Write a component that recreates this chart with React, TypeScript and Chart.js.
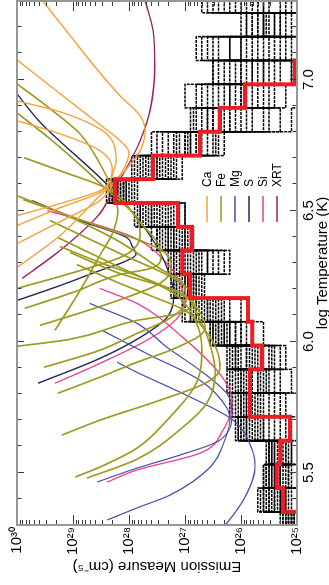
import React, { useEffect, useRef } from 'react';
import { Chart, registerables } from 'chart.js';

Chart.register(...registerables);

// ---------- axes ----------
const T_MIN = 5.3;
const T_MAX = 7.3;
const T_MAJOR = [5.5, 6.0, 6.5, 7.0];
const T_MINOR = [5.4, 5.6, 5.7, 5.8, 5.9, 6.1, 6.2, 6.3, 6.4, 6.6, 6.7, 6.8, 6.9, 7.1, 7.2];
const EM_DECADES = [25, 26, 27, 28, 29, 30];
const EM_MINOR_MULT = [2, 3, 4, 5, 6, 7, 8, 9];

// ---------- colours / legend ----------
const LEGEND_LABELS = ['Ca', 'Fe', 'Mg', 'S', 'Si', 'XRT'];
const LEGEND_COLORS = ['#f7a13a', '#9d9b22', '#4d4da6', '#24245e', '#ef3b8d', '#9b1f5e'];

// ---------- DEM histograms (log T bin edges, log EM per bin) ----------
const BIN_EDGES = [5.259, 5.35, 5.441, 5.531, 5.622, 5.713, 5.804, 5.894, 5.985, 6.076, 6.166, 6.257,
  6.348, 6.438, 6.529, 6.62, 6.71, 6.801, 6.892, 6.982, 7.073, 7.164, 7.255, 7.346];
const RED_EDGES = [5.35, 5.441, 5.531, 5.622, 5.713, 5.804, 5.894, 5.985, 6.076, 6.166, 6.257,
  6.348, 6.438, 6.529, 6.62, 6.71, 6.801, 6.892, 6.982, 7.073];
const RED_LOG_EM = [25.25, 25.36, 25.3, 25.125, 25.84, 25.84, 25.625, 25.8, 25.875, 26.91, 27.05,
  26.875, 27.125, 28.25, 27.57, 26.73, 26.375, 25.93, 25.04];
const FLOOR_LOG_EM = 24.8;

const MC_01 = [25.1, 25.3, 25.45, 25.2, 25.9, 25.6, 26.0, 25.5, 26.3, 26.6, 27.0, 26.9, 27.3, 27.5, 28.1, 27.7, 27.0, 26.2, 25.8, 25.4, 26.2, 25.3, 25.8];
const MC_02 = [25.25, 25.6, 25.1, 25.5, 25.4, 26.1, 25.3, 26.1, 25.8, 27.0, 26.8, 27.2, 27.0, 27.8, 28.3, 27.4, 27.4, 25.5, 26.5, 26.0, 25.2, 25.9, 26.4];
const MC_03 = [25.0, 25.1, 25.3, 25.0, 26.05, 25.2, 25.7, 25.9, 26.5, 26.2, 27.2, 26.4, 27.5, 27.1, 27.9, 27.9, 26.5, 26.8, 25.2, 26.5, 26.7, 25.0, 25.1];
const MC_04 = [25.15, 25.5, 25.55, 25.4, 25.2, 25.9, 26.2, 25.2, 26.0, 26.9, 26.7, 27.3, 26.9, 27.7, 28.2, 27.2, 27.2, 25.8, 27.0, 25.1, 25.8, 26.0, 25.0];
const MC_05 = [25.05, 25.7, 25.2, 25.1, 25.6, 25.4, 25.1, 26.2, 25.6, 26.4, 27.1, 26.7, 27.6, 27.3, 28.0, 27.6, 26.8, 26.9, 26.2, 25.7, 25.5, 25.6, 26.7];
const MC_06 = [25.2, 25.0, 25.4, 25.3, 26.0, 26.2, 25.9, 25.8, 26.2, 26.0, 26.9, 27.0, 27.2, 27.0, 28.4, 27.95, 27.6, 25.1, 25.0, 26.4, 26.0, 25.4, 25.3];
const MC_07 = [25.0, 25.4, 25.0, 25.55, 25.1, 25.0, 26.25, 25.6, 26.4, 26.8, 27.25, 26.2, 26.85, 27.85, 27.85, 27.3, 26.3, 26.5, 26.0, 25.0, 26.8, 25.7, 26.0];
const MC_08 = [25.3, 25.2, 25.6, 25.0, 25.7, 25.7, 25.5, 26.0, 26.55, 27.05, 26.65, 26.6, 27.4, 27.6, 28.15, 27.8, 27.1, 26.0, 26.8, 26.2, 25.0, 25.2, 25.5];
const MC_09 = [25.1, 25.55, 25.3, 25.45, 25.8, 25.5, 25.4, 25.4, 26.1, 26.7, 26.95, 26.8, 27.1, 27.4, 28.25, 27.5, 26.7, 25.6, 26.3, 25.6, 25.6, 25.0, 26.2];
const MC_10 = [25.0, 25.0, 25.5, 25.15, 25.3, 26.0, 26.1, 26.25, 25.9, 26.5, 27.15, 27.1, 27.5, 27.2, 28.05, 27.05, 27.5, 26.6, 25.5, 25.9, 26.4, 25.5, 25.0];
const MC_11 = [25.2, 25.65, 25.15, 25.35, 26.1, 25.3, 25.6, 25.7, 26.45, 26.3, 26.85, 26.5, 27.0, 27.65, 27.95, 27.65, 26.9, 26.3, 25.9, 26.5, 26.0, 25.8, 26.6];
const MC_12 = [25.1, 25.35, 25.6, 25.5, 25.5, 25.8, 25.8, 25.3, 26.2, 26.85, 27.05, 27.25, 27.25, 27.0, 28.35, 27.35, 26.4, 25.3, 26.6, 25.3, 25.4, 25.6, 25.7];
const MC_13 = [25.05, 25.3, 25.4, 25.3, 25.95, 25.9, 25.7, 25.9, 26.35, 26.6, 26.95, 26.95, 27.2, 27.55, 28.3, 27.6, 26.8, 26.5, 26.0, 25.1, 25.3, 25.9, 25.2];
const MC_14 = [25.15, 25.2, 25.35, 25.25, 25.75, 26.05, 25.55, 25.75, 26.5, 26.55, 26.85, 27.15, 26.95, 27.75, 28.2, 27.5, 26.9, 26.4, 26.2, 25.6, 25.7, 25.1, 25.9];
const MC_15 = [25.0, 25.45, 25.25, 25.4, 25.85, 25.75, 26.05, 25.65, 26.3, 26.75, 27.0, 26.85, 27.35, 27.45, 28.1, 27.45, 27.0, 26.7, 25.7, 25.8, 26.5, 25.4, 25.6];
const MC_16 = [25.25, 25.15, 25.5, 25.2, 26.0, 25.85, 25.95, 25.45, 26.1, 26.65, 26.9, 27.05, 27.05, 27.35, 28.35, 27.75, 27.3, 26.1, 26.4, 26.1, 25.9, 25.7, 26.3];
const MC_17 = [25.1, 25.6, 25.3, 25.1, 25.65, 26.15, 25.65, 26.05, 26.4, 26.45, 27.15, 26.6, 27.15, 27.9, 28.05, 27.25, 26.6, 26.85, 25.4, 26.3, 25.1, 25.55, 25.0];
const MC_18 = [25.2, 25.4, 25.45, 25.5, 25.9, 25.65, 25.85, 26.15, 26.25, 26.9, 26.75, 26.75, 27.45, 27.25, 28.25, 27.85, 26.95, 25.9, 26.7, 25.5, 26.6, 25.3, 26.5];
const MC_19 = [25.05, 25.25, 25.15, 25.45, 26.05, 26.0, 26.15, 25.85, 26.55, 26.35, 26.8, 27.2, 27.3, 27.6, 28.15, 27.55, 26.45, 26.2, 26.1, 25.8, 25.0, 25.8, 25.6];
const MC_20 = [25.15, 25.5, 25.55, 25.3, 25.6, 25.95, 26.0, 26.1, 26.0, 26.8, 27.2, 26.3, 26.9, 27.8, 28.1, 27.15, 27.15, 26.6, 25.6, 26.0, 26.2, 25.6, 26.1];
const MC_SERIES = [MC_01, MC_02, MC_03, MC_04, MC_05, MC_06, MC_07, MC_08, MC_09, MC_10,
  MC_11, MC_12, MC_13, MC_14, MC_15, MC_16, MC_17, MC_18, MC_19, MC_20];

// ---------- EM loci: [log T, log EM] ----------
type P = [number, number];
const CA_A: P[] = [[6.283, 30.0], [6.405, 29.23], [6.538, 28.61], [6.588, 28.375], [6.652, 28.07], [6.729, 27.8], [6.805, 27.71], [6.862, 27.8], [6.938, 28.16], [7.026, 28.52], [7.167, 29.05], [7.3, 29.54]];
const CA_B: P[] = [[6.374, 30.0], [6.458, 29.23], [6.538, 28.52], [6.595, 28.3], [6.66, 28.09], [6.721, 28.0], [6.767, 28.16], [6.828, 28.52], [6.946, 29.23], [7.075, 30.0]];
const CA_C: P[] = [[6.443, 30.0], [6.511, 29.23], [6.569, 28.52], [6.599, 28.375], [6.652, 28.27], [6.698, 28.23], [6.767, 28.3], [6.812, 28.52], [6.877, 29.23], [6.919, 30.0]];
const CA_D: P[] = [[6.481, 30.0], [6.527, 29.23], [6.576, 28.52], [6.614, 28.34], [6.66, 28.3], [6.729, 28.52], [6.793, 29.23], [6.843, 30.0]];

const FE_1: P[] = [[6.043, 29.32], [6.195, 28.875], [6.329, 28.52], [6.416, 28.29], [6.5, 28.2], [6.576, 28.29], [6.679, 28.52], [6.793, 28.875], [6.889, 29.41], [6.984, 30.0]];
const FE_2: P[] = [[6.203, 30.0], [6.26, 29.05], [6.321, 28.16], [6.359, 27.89], [6.412, 27.8], [6.481, 27.89], [6.569, 28.34], [6.664, 28.82], [6.774, 29.41], [6.873, 30.0]];
const FE_3: P[] = [[6.127, 29.86], [6.191, 28.96], [6.256, 28.16], [6.279, 27.625], [6.317, 27.43], [6.374, 27.48], [6.454, 27.8], [6.584, 28.39], [6.652, 29.23], [6.702, 29.875]];
const FE_4: P[] = [[5.902, 29.52], [5.967, 28.52], [6.031, 27.86], [6.089, 27.27], [6.157, 26.98], [6.226, 27.05], [6.279, 27.45], [6.386, 28.21], [6.492, 29.23], [6.557, 30.0]];
const FE_5: P[] = [[5.982, 30.0], [6.009, 29.05], [6.081, 27.86], [6.104, 27.18], [6.146, 26.86], [6.203, 26.95], [6.249, 27.27], [6.336, 28.16], [6.462, 29.41]];
const FE_6: P[] = [[5.483, 28.96], [5.521, 28.52], [5.593, 27.86], [5.7, 27.32], [5.845, 26.79], [5.967, 26.7], [6.073, 26.8], [6.184, 27.2], [6.283, 28.16], [6.397, 29.27]];
const FE_7: P[] = [[5.479, 28.75], [5.551, 27.86], [5.673, 27.04], [5.765, 26.61], [5.879, 26.46], [5.978, 26.54], [6.1, 26.77], [6.188, 27.09], [6.26, 28.16], [6.34, 29.05]];
const FE_8: P[] = [[5.643, 29.2], [5.7, 28.52], [5.776, 27.45], [5.841, 26.64], [5.898, 26.375], [5.967, 26.43], [6.043, 26.64], [6.119, 27.0], [6.176, 27.625], [6.222, 28.16], [6.294, 28.93]];
const FE_9: P[] = [[6.062, 29.59], [6.115, 28.79], [6.169, 28.04], [6.222, 27.45], [6.279, 27.25], [6.34, 27.36], [6.386, 27.8], [6.416, 28.21], [6.492, 29.23], [6.542, 29.89]];
const FE_10: P[] = [[5.803, 29.27], [5.864, 28.52], [5.921, 27.86], [5.974, 27.18], [6.05, 26.64], [6.111, 26.73], [6.172, 27.0], [6.233, 27.625], [6.302, 28.52], [6.363, 29.23]];

const MG_1: P[] = [[5.281, 26.375], [5.308, 26.25], [5.422, 25.89], [5.521, 25.75], [5.586, 25.8], [5.7, 26.14], [5.807, 27.09], [5.883, 27.86], [5.921, 28.21]];
const MG_2: P[] = [[5.319, 28.39], [5.365, 27.86], [5.414, 27.27], [5.521, 26.55], [5.624, 26.29], [5.7, 26.2], [5.746, 26.25], [5.852, 26.73], [5.948, 27.625], [6.043, 28.48]];
const MG_3: P[] = [[5.464, 28.57], [5.517, 27.86], [5.567, 27.09], [5.624, 26.375], [5.727, 26.16], [5.795, 26.23], [5.89, 26.73], [5.978, 27.32], [6.07, 27.86], [6.146, 28.7]];

const S_1: P[] = [[6.157, 30.0], [6.214, 29.23], [6.271, 28.52], [6.306, 28.07], [6.332, 27.875], [6.367, 27.95], [6.397, 28.04], [6.462, 28.875], [6.538, 29.73]];
const S_2: P[] = [[5.841, 29.625], [5.936, 28.52], [6.016, 27.8], [6.092, 27.32], [6.176, 27.2], [6.271, 27.3], [6.405, 27.625], [6.588, 28.34], [6.843, 29.61], [6.946, 30.0]];

const SI_1: P[] = [[5.841, 29.32], [5.917, 28.52], [6.012, 27.625], [6.089, 27.14], [6.157, 27.02], [6.226, 27.09], [6.298, 27.32], [6.397, 27.91], [6.454, 28.7], [6.5, 29.46]];
const SI_2: P[] = [[5.464, 28.39], [5.51, 27.86], [5.574, 26.73], [5.662, 26.32], [5.765, 26.16], [5.814, 26.2], [5.89, 26.43], [6.016, 27.04], [6.146, 27.86], [6.203, 28.52]];

const XRT_1: P[] = [[6.241, 29.91], [6.348, 29.23], [6.489, 28.52], [6.576, 28.29], [6.664, 28.04], [6.767, 27.8], [6.881, 27.625], [7.052, 27.54], [7.186, 27.57], [7.3, 27.71]];

const CA_LOCI = [CA_A, CA_B, CA_C, CA_D];
const FE_LOCI = [FE_1, FE_2, FE_3, FE_4, FE_5, FE_6, FE_7, FE_8, FE_9, FE_10];
const MG_LOCI = [MG_1, MG_2, MG_3];
const S_LOCI = [S_1, S_2];
const SI_LOCI = [SI_1, SI_2];
const XRT_LOCI = [XRT_1];
const LOCI_GROUPS = [CA_LOCI, FE_LOCI, MG_LOCI, S_LOCI, SI_LOCI, XRT_LOCI];
const LOCI_WIDTHS = [1.4, 1.7, 1.2, 1.4, 1.3, 1.4];

const SUP: Record<string, string> = { '0': '⁰', '1': '¹', '2': '²', '3': '³', '4': '⁴', '5': '⁵', '6': '⁶', '7': '⁷', '8': '⁸', '9': '⁹', '-': '⁻' };
const FONT = "'Liberation Sans', Arial, Helvetica, sans-serif";

const em = (logv: number) => Math.pow(10, logv);

function stepPoints(edges: number[], vals: number[]) {
  const pts = vals.map((v, i) => ({ x: edges[i], y: em(v) }));
  pts.push({ x: edges[vals.length], y: em(vals[vals.length - 1]) });
  return pts;
}

const framePlugin = {
  id: 'frameTicksLegend',
  afterDatasetsDraw(chart: any) {
    const { ctx, chartArea: a, scales } = chart;
    const xs = scales.x;
    const ys = scales.y;
    ctx.save();
    ctx.strokeStyle = '#3a3a3a';
    ctx.lineWidth = 1;
    ctx.beginPath();
    const tTick = (t: number, len: number) => {
      const px = Math.round(xs.getPixelForValue(t)) + 0.5;
      ctx.moveTo(px, a.top); ctx.lineTo(px, a.top + len);
      ctx.moveTo(px, a.bottom); ctx.lineTo(px, a.bottom - len);
    };
    T_MAJOR.forEach((t) => tTick(t, 7));
    T_MINOR.forEach((t) => tTick(t, 4.5));
    const eTick = (v: number, len: number) => {
      const py = Math.round(ys.getPixelForValue(v)) + 0.5;
      ctx.moveTo(a.left, py); ctx.lineTo(a.left + len, py);
      ctx.moveTo(a.right, py); ctx.lineTo(a.right - len, py);
    };
    EM_DECADES.forEach((d) => eTick(em(d), 10));
    EM_DECADES.slice(0, -1).forEach((d) => EM_MINOR_MULT.forEach((m) => eTick(m * em(d), 5)));
    ctx.stroke();

    ctx.strokeStyle = '#979797';
    ctx.lineWidth = 2;
    ctx.strokeRect(a.left, a.top, a.right - a.left, a.bottom - a.top);

    // legend
    ctx.font = `12px ${FONT}`;
    ctx.textAlign = 'left';
    ctx.textBaseline = 'middle';
    LEGEND_LABELS.forEach((lab, i) => {
      const y = a.top + 190 + i * 14;
      const x0 = a.left + 303;
      ctx.strokeStyle = LEGEND_COLORS[i];
      ctx.lineWidth = 1.5;
      ctx.beginPath();
      ctx.moveTo(x0, y); ctx.lineTo(x0 + 26, y);
      ctx.stroke();
      ctx.fillStyle = '#000';
      ctx.fillText(lab, x0 + 35, y + 0.5);
    });
    ctx.restore();
  },
};

export default function App() {
  const ref = useRef<HTMLCanvasElement>(null);

  useEffect(() => {
    const canvas = ref.current;
    if (!canvas) return;
    Chart.defaults.font.family = FONT;

    const redPts = [
      { x: 5.25, y: em(FLOOR_LOG_EM) },
      ...stepPoints(RED_EDGES, RED_LOG_EM),
    ];
    redPts[redPts.length - 1] = { x: RED_EDGES[RED_EDGES.length - 1], y: em(FLOOR_LOG_EM) };
    redPts.push({ x: 7.35, y: em(FLOOR_LOG_EM) });

    const datasets: any[] = [
      {
        label: 'DEM best fit',
        data: redPts,
        borderColor: '#ee1d25',
        borderWidth: 4,
        stepped: true,
        pointRadius: 0,
        order: 0,
      },
    ];
    MC_SERIES.forEach((s, i) => {
      datasets.push({
        label: `MC ${i + 1}`,
        data: stepPoints(BIN_EDGES, s),
        borderColor: '#000',
        borderWidth: 1.5,
        borderDash: [3, 1],
        stepped: true,
        pointRadius: 0,
        order: 2,
      });
    });
    LOCI_GROUPS.forEach((group, gi) => {
      group.forEach((curve) => {
        datasets.push({
          label: LEGEND_LABELS[gi],
          data: curve.map(([t, e]) => ({ x: t, y: em(e) })),
          borderColor: LEGEND_COLORS[gi],
          borderWidth: LOCI_WIDTHS[gi],
          cubicInterpolationMode: 'monotone',
          pointRadius: 0,
          order: 1,
        });
      });
    });

    const chart = new Chart(canvas, {
      type: 'line',
      data: { datasets },
      plugins: [framePlugin],
      options: {
        animation: false,
        responsive: false,
        devicePixelRatio: 1,
        layout: { padding: { top: 17, right: 1, bottom: 0, left: 0 } },
        plugins: { legend: { display: false }, tooltip: { enabled: false } },
        scales: {
          x: {
            type: 'linear',
            position: 'bottom',
            min: T_MIN,
            max: T_MAX,
            grid: { display: false, drawTicks: false },
            border: { display: false },
            afterBuildTicks: (scale: any) => {
              scale.ticks = T_MAJOR.map((v) => ({ value: v }));
            },
            afterFit: (scale: any) => {
              scale.height = 32;
            },
            ticks: {
              autoSkip: false,
              maxRotation: 0,
              padding: 4,
              color: '#000',
              font: { size: 15, lineHeight: 1 },
              callback: (v: any) => Number(v).toFixed(1),
            },
            title: {
              display: true,
              text: 'log Temperature (K)',
              color: '#000',
              font: { size: 15, lineHeight: 1 },
              padding: { top: 0, bottom: -1 },
            },
          },
          y: {
            type: 'logarithmic',
            position: 'left',
            min: em(25),
            max: em(30),
            grid: { display: false, drawTicks: false },
            border: { display: false },
            afterBuildTicks: (scale: any) => {
              scale.ticks = EM_DECADES.map((d) => ({ value: em(d) }));
            },
            afterFit: (scale: any) => {
              scale.width = 60;
            },
            ticks: {
              autoSkip: false,
              padding: 2,
              color: '#000',
              font: { size: 15, lineHeight: 1 },
              callback: (v: any) => {
                const e = Math.round(Math.log10(Number(v)));
                return '10' + String(e).split('').map((c) => SUP[c]).join('');
              },
            },
            title: {
              display: true,
              text: 'Emission Measure (cm⁻⁵)',
              color: '#000',
              font: { size: 15, lineHeight: 1 },
              padding: { top: 11, bottom: 0 },
            },
          },
        },
      } as any,
    });
    return () => chart.destroy();
  }, []);

  return (
    <div style={{ position: 'fixed', left: 0, top: 0, width: 329, height: 585, overflow: 'hidden', background: '#fff' }}>
      <div
        style={{
          position: 'absolute',
          left: 0,
          top: 0,
          width: 585,
          height: 329,
          transformOrigin: '0 0',
          transform: 'translateY(585px) rotate(-90deg)',
        }}
      >
        <canvas ref={ref} width={585} height={329} style={{ display: 'block', width: 585, height: 329 }} />
      </div>
    </div>
  );
}
